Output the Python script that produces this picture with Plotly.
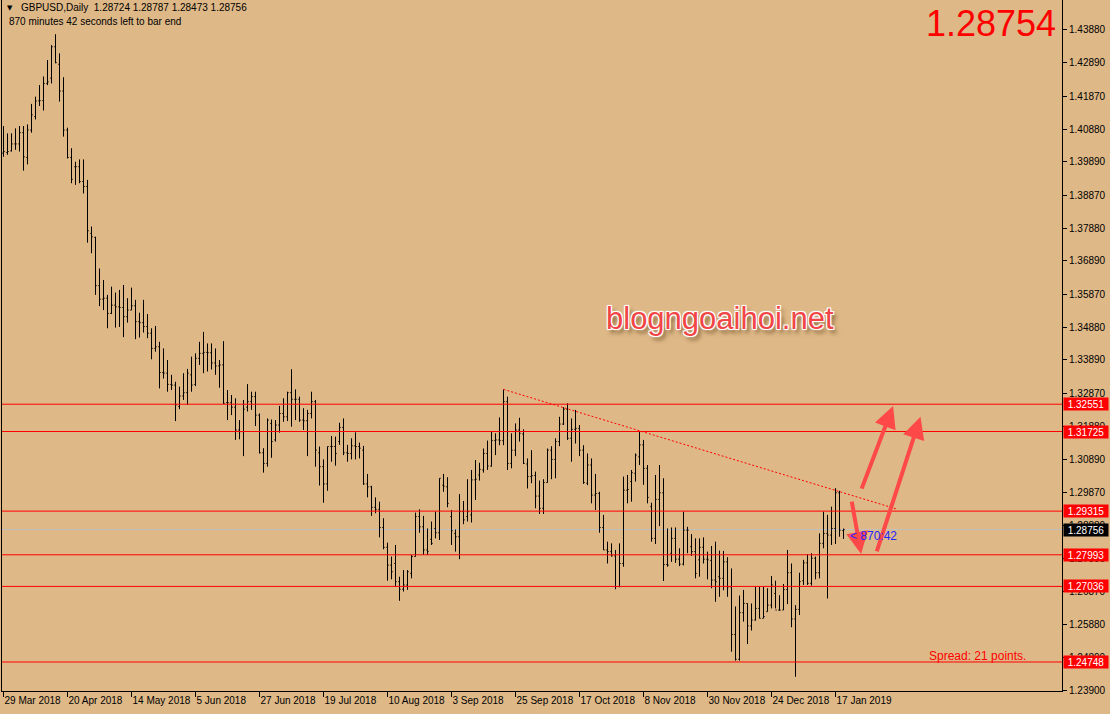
import plotly.graph_objects as go
import pandas as pd

# ---------------- data (GBPUSD daily) ----------------
opens = [1.4015,1.4017,1.4022,1.4043,1.4043,1.4077,1.4002,1.4085,1.4126,1.4173,1.4174,1.4226,1.4242,1.4337,1.4284,1.4203,1.4085,1.4002,1.3974,1.3974,
         1.3929,1.3914,1.3772,1.3760,1.3614,1.3573,1.3576,1.3530,1.3555,1.3550,1.3548,1.3520,1.3540,1.3553,1.3505,1.3502,1.3490,1.3470,1.3424,1.3429,
         1.3351,1.3349,1.3315,1.3313,1.3248,1.3280,1.3290,1.3344,1.3315,1.3394,1.3409,1.3412,1.3411,
         1.3380,1.3371,1.3374,1.3260,1.3260,1.3246,1.3177,1.3172,1.3246,1.3263,1.3278,1.3222,1.3108,1.3076,1.3197,1.3147,1.3192,1.3227,1.3217,1.3290,
         1.3270,1.3270,1.3207,1.3205,1.3227,1.3263,1.3108,1.3066,1.3014,1.3127,1.3127,1.3142,1.3185,1.3108,1.3106,1.3129,1.3127,1.3116,1.3014,1.3005,
         1.2943,1.2937,1.2882,1.2822,1.2768,1.2773,1.2718,1.2695,1.2708,1.2743,1.2794,1.2915,1.2884,
         1.2814,1.2846,1.2879,1.2866,1.3010,1.3005,1.2915,1.2864,1.2854,1.2930,1.2915,1.2920,1.3026,1.3041,1.3056,1.3106,1.3068,1.3145,1.3147,1.3145,
         1.3263,1.3076,1.3116,1.3177,1.3165,1.3074,1.3036,1.3039,1.2977,1.2940,1.3018,1.3116,1.3088,1.3142,1.3195,1.3240,1.3152,1.3179,1.3182,1.3116,
         1.3016,1.3071,1.2980,1.2985,1.2882,1.2814,1.2809,1.2796,1.2703,1.2773,1.2995,1.3021,
         1.3046,1.3096,1.3132,1.3061,1.2945,1.2849,1.2967,1.2987,1.2770,1.2804,1.2849,1.2786,1.2771,1.2874,1.2824,1.2809,1.2784,1.2822,1.2786,1.2782,
         1.2723,1.2733,1.2728,1.2778,1.2702,1.2558,1.2483,1.2624,1.2652,1.2584,1.2602,1.2637,1.2607,1.2627,1.2647,1.2682,1.2632,1.2632,1.2694,1.2745,
         1.2605,1.2634,1.2721,1.2775,1.2713,1.2789,1.2745,1.2834,1.2864,1.2859,1.2879,1.2987,1.28724]
highs = [1.4097,1.4075,1.4075,1.4090,1.4097,1.4097,1.4102,1.4164,1.4186,1.4221,1.4247,1.4297,1.4342,1.4375,1.4317,1.4245,1.4092,1.4030,1.3989,1.3996,
         1.3996,1.3934,1.3793,1.3762,1.3666,1.3631,1.3586,1.3611,1.3593,1.3601,1.3616,1.3576,1.3608,1.3571,1.3532,1.3571,1.3528,1.3485,1.3492,1.3444,
         1.3424,1.3389,1.3344,1.3323,1.3308,1.3349,1.3362,1.3399,1.3409,1.3444,1.3474,1.3439,1.3439,
         1.3424,1.3389,1.3446,1.3298,1.3283,1.3273,1.3207,1.3268,1.3316,1.3293,1.3293,1.3227,1.3122,1.3212,1.3209,1.3207,1.3250,1.3273,1.3293,1.3361,
         1.3300,1.3278,1.3243,1.3238,1.3293,1.3268,1.3127,1.3088,1.3127,1.3159,1.3157,1.3199,1.3212,1.3132,1.3152,1.3170,1.3139,1.3129,1.3044,1.3008,
         1.2973,1.2960,1.2910,1.2836,1.2794,1.2829,1.2733,1.2753,1.2753,1.2799,1.2927,1.2937,1.2917,
         1.2879,1.2900,1.2930,1.3031,1.3044,1.3034,1.2935,1.2876,1.2983,1.2962,1.3028,1.3056,1.3086,1.3078,1.3121,1.3145,1.3172,1.3167,1.3215,1.3300,
         1.3278,1.3167,1.3197,1.3214,1.3179,1.3091,1.3116,1.3051,1.3024,1.3028,1.3121,1.3128,1.3152,1.3217,1.3246,1.3258,1.3212,1.3238,1.3192,1.3131,
         1.3106,1.3091,1.3044,1.2990,1.2920,1.2839,1.2834,1.2814,1.2834,1.3036,1.3041,1.3056,
         1.3106,1.3172,1.3147,1.3071,1.2957,1.3041,1.3071,1.3031,1.2879,1.2882,1.2882,1.2819,1.2930,1.2884,1.2862,1.2849,1.2849,1.2852,1.2809,1.2826,
         1.2839,1.2812,1.2811,1.2792,1.2758,1.2643,1.2676,1.2693,1.2652,1.2652,1.2702,1.2702,1.2702,1.2698,1.2735,1.2721,1.2677,1.2711,1.2814,1.2773,
         1.2647,1.2745,1.2784,1.2801,1.2804,1.2794,1.2864,1.2930,1.2920,1.2945,1.3001,1.2993,1.28787]
lows = [1.4004,1.4010,1.4020,1.4025,1.4020,1.3962,1.3981,1.4077,1.4117,1.4158,1.4144,1.4221,1.4226,1.4287,1.4171,1.4065,1.3999,1.3924,1.3919,1.3924,
        1.3893,1.3744,1.3712,1.3586,1.3552,1.3540,1.3485,1.3528,1.3487,1.3489,1.3458,1.3502,1.3540,1.3452,1.3457,1.3472,1.3455,1.3391,1.3414,1.3303,
        1.3333,1.3293,1.3298,1.3204,1.3240,1.3268,1.3253,1.3293,1.3310,1.3374,1.3349,1.3354,1.3360,
        1.3344,1.3305,1.3256,1.3207,1.3222,1.3147,1.3149,1.3098,1.3233,1.3238,1.3189,1.3106,1.3048,1.3066,1.3093,1.3142,1.3169,1.3202,1.3204,1.3187,
        1.3207,1.3202,1.3177,1.3098,1.3212,1.3066,1.3009,1.2957,1.2993,1.3081,1.3069,1.3132,1.3101,1.3081,1.3088,1.3088,1.3091,1.3011,1.2973,1.2917,
        1.2925,1.2852,1.2816,1.2721,1.2725,1.2703,1.2660,1.2688,1.2693,1.2728,1.2794,1.2866,1.2799,
        1.2799,1.2829,1.2849,1.2844,1.2990,1.2943,1.2829,1.2809,1.2786,1.2892,1.2900,1.2897,1.2965,1.3024,1.3048,1.3056,1.3066,1.3101,1.3131,1.3131,
        1.3056,1.3061,1.3098,1.3142,1.3074,1.3000,1.3016,1.2940,1.2923,1.2923,1.3018,1.3028,1.3031,1.3128,1.3192,1.3147,1.3081,1.3136,1.3098,1.3014,
        1.3010,1.2955,1.2935,1.2866,1.2814,1.2773,1.2794,1.2695,1.2701,1.2763,1.2955,1.2960,
        1.3021,1.3071,1.3011,1.2955,1.2839,1.2832,1.2886,1.2720,1.2763,1.2778,1.2775,1.2765,1.2767,1.2804,1.2796,1.2728,1.2733,1.2773,1.2725,1.2698,
        1.2657,1.2672,1.2692,1.2672,1.2506,1.2479,1.2479,1.2597,1.2529,1.2570,1.2600,1.2607,1.2607,1.2627,1.2637,1.2637,1.2630,1.2632,1.2650,1.2580,
        1.2430,1.2617,1.2708,1.2708,1.2706,1.2725,1.2728,1.2819,1.2667,1.2829,1.2832,1.2854,1.28473]
closes = [1.4020,1.4020,1.4043,1.4043,1.4077,1.4004,1.4085,1.4131,1.4173,1.4174,1.4226,1.4231,1.4337,1.4289,1.4203,1.4085,1.4002,1.3936,1.3974,1.3929,
          1.3914,1.3780,1.3762,1.3614,1.3573,1.3576,1.3530,1.3555,1.3550,1.3548,1.3520,1.3540,1.3553,1.3505,1.3502,1.3490,1.3470,1.3424,1.3429,1.3351,
          1.3349,1.3315,1.3313,1.3253,1.3280,1.3290,1.3349,1.3313,1.3394,1.3409,1.3412,1.3411,1.3380,
          1.3371,1.3374,1.3258,1.3260,1.3246,1.3177,1.3172,1.3240,1.3263,1.3278,1.3222,1.3108,1.3076,1.3207,1.3142,1.3192,1.3227,1.3217,1.3290,1.3270,
          1.3270,1.3207,1.3205,1.3227,1.3263,1.3116,1.3066,1.3014,1.3127,1.3127,1.3106,1.3185,1.3108,1.3106,1.3129,1.3127,1.3122,1.3014,1.3005,1.2943,
          1.2937,1.2882,1.2822,1.2768,1.2748,1.2718,1.2695,1.2708,1.2748,1.2794,1.2915,1.2884,1.2814,
          1.2809,1.2834,1.2866,1.3031,1.3007,1.2955,1.2872,1.2854,1.2930,1.2905,1.2930,1.3026,1.3028,1.3058,1.3106,1.3068,1.3145,1.3147,1.3145,1.3263,
          1.3076,1.3116,1.3177,1.3167,1.3076,1.3036,1.3039,1.2977,1.2940,1.3018,1.3116,1.3088,1.3142,1.3195,1.3240,1.3152,1.3179,1.3182,1.3116,1.3018,
          1.3071,1.2980,1.2985,1.2882,1.2814,1.2809,1.2796,1.2703,1.2773,1.2995,1.2997,1.3048,
          1.3101,1.3132,1.3061,1.2973,1.2849,1.2967,1.2987,1.2770,1.2768,1.2849,1.2786,1.2771,1.2874,1.2874,1.2809,1.2743,1.2822,1.2786,1.2784,1.2723,
          1.2718,1.2728,1.2778,1.2702,1.2558,1.2483,1.2624,1.2652,1.2584,1.2602,1.2637,1.2607,1.2612,1.2647,1.2708,1.2632,1.2632,1.2694,1.2745,1.2605,
          1.2634,1.2718,1.2775,1.2713,1.2789,1.2745,1.2834,1.2864,1.2859,1.2879,1.2987,1.2874,1.28756]

start_date = "2018-03-29"
skip_dates = ["2018-12-25", "2019-01-01"]
label_every = 16

levels_red = [1.32551, 1.31725, 1.29315, 1.27993, 1.27036, 1.24748]
current_price = 1.28756
big_price = "1.28754"
y_ticks = [1.43880, 1.42890, 1.41870, 1.40880, 1.39890, 1.38870, 1.37880, 1.36890, 1.35870, 1.34880,
           1.33890, 1.32870, 1.31880, 1.30890, 1.29870, 1.28880, 1.27890, 1.26870, 1.25880, 1.24890, 1.23900]
trend_x = [125, 223.25]
trend_y = [1.3300, 1.2938]
arrows = [  # (tail_x, tail_y, head_x, head_y)
    (214.4, 1.2995, 222.4, 1.3250),
    (212.0, 1.2965, 214.4, 1.2802),
    (218.2, 1.2805, 229.25, 1.3217),
]
header1 = "GBPUSD,Daily  1.28724 1.28787 1.28473 1.28756"
header2 = "870 minutes 42 seconds left to bar end"
timer_text = "< 870:42"
spread_text = "Spread: 21 points."
watermark = "blogngoaihoi.net"

# ---------------- build ----------------
n = len(opens)
all_days = pd.bdate_range(start_date, periods=n + 10)
dates = [d for d in all_days if d.strftime("%Y-%m-%d") not in skip_dates][:n]
xs = list(range(n))
tick_idx = list(range(0, n, label_every))
tick_txt = [f"{dates[i].day} {dates[i]:%b %Y}" for i in tick_idx]

BG = "#DEB887"
FONT = "Liberation Sans, Arial, sans-serif"

fig = go.Figure()
fig.add_trace(go.Ohlc(
    x=xs, open=opens, high=highs, low=lows, close=closes,
    increasing=dict(line=dict(color="black", width=1)),
    decreasing=dict(line=dict(color="black", width=1)),
    tickwidth=0.3, showlegend=False, hoverinfo="skip"))

fig.add_trace(go.Scatter(x=trend_x, y=trend_y, mode="lines",
                         line=dict(color="#FF0000", width=1, dash="2px,2px"),
                         showlegend=False, hoverinfo="skip"))

shapes = [dict(type="line", xref="paper", x0=0, x1=1, yref="y", y0=current_price, y1=current_price,
               line=dict(color="#C0C0C0", width=1), layer="below")]
for lv in levels_red:
    shapes.append(dict(type="line", xref="paper", x0=0, x1=1, yref="y", y0=lv, y1=lv,
                       line=dict(color="#FF0000", width=1), layer="above"))

ann = []
for lv in levels_red:
    ann.append(dict(xref="paper", x=1, xanchor="left", xshift=1, yref="y", y=lv, yanchor="middle",
                    text=f"{lv:.5f}", showarrow=False, bgcolor="#FF0000", width=44, height=12,
                    borderpad=0, font=dict(family=FONT, size=10, color="white")))
ann.append(dict(xref="paper", x=1, xanchor="left", xshift=1, yref="y", y=current_price, yanchor="middle",
                text=f"{current_price:.5f}", showarrow=False, bgcolor="#000000", width=44, height=12,
                borderpad=0, font=dict(family=FONT, size=10, color="white")))

for tx, ty, hx, hy in arrows:
    ann.append(dict(x=hx, y=hy, ax=tx, ay=ty, xref="x", yref="y", axref="x", ayref="y",
                    text="", showarrow=True, arrowhead=2, arrowsize=1.1, arrowwidth=4,
                    arrowcolor="#FF4848"))

ann.append(dict(xref="paper", yref="paper", x=0.9962, y=0.966, xanchor="right", yanchor="middle",
                text=big_price, showarrow=False, font=dict(family=FONT, size=36, color="#FF0000")))
ann.append(dict(xref="paper", yref="paper", x=0.0028, y=0.9885, xanchor="left", yanchor="middle",
                text="▼", showarrow=False, font=dict(family="DejaVu Sans", size=7, color="black")))
ann.append(dict(xref="paper", yref="paper", x=0.016, y=0.9885, xanchor="left", yanchor="middle",
                text=header1.replace("  ", "&nbsp;&nbsp;"), showarrow=False,
                font=dict(family=FONT, size=10, color="black")))
ann.append(dict(xref="paper", yref="paper", x=0.0045, y=0.9695, xanchor="left", yanchor="middle",
                text=header2, showarrow=False, font=dict(family=FONT, size=10, color="black")))
ann.append(dict(xref="x", yref="y", x=211.1, y=1.2857, xanchor="left", yanchor="middle",
                text=timer_text, showarrow=False, font=dict(family=FONT, size=12, color="#2525FF")))
ann.append(dict(xref="x", yref="y", x=230.9, y=1.2493, xanchor="left", yanchor="middle",
                text=spread_text, showarrow=False, font=dict(family=FONT, size=12, color="#FF0000")))
ann.append(dict(xref="x", yref="y", x=179.1, y=1.3516, xanchor="center", yanchor="middle",
                text=watermark, showarrow=False,
                font=dict(family=FONT, size=31, color="#F24545",
                          shadow="-1px -1px 0 #fff, 1px -1px 0 #fff, -1px 1px 0 #fff, 1px 1px 0 #fff, 0 0 3px #fff, 3px 4px 4px #7a5a30")))

fig.update_layout(
    width=1110, height=714,
    margin=dict(l=2, r=48, t=0, b=23, autoexpand=False),
    paper_bgcolor=BG, plot_bgcolor=BG,
    shapes=shapes, annotations=ann, showlegend=False,
    font=dict(family=FONT, size=10, color="black"),
)
fig.update_xaxes(range=[-0.375, 264.625], rangeslider=dict(visible=False),
                 tickmode="array", tickvals=tick_idx, ticktext=tick_txt,
                 ticks="outside", ticklen=5, tickcolor="black", tickwidth=1,
                 ticklabelposition="outside right", tickangle=0, automargin=False,
                 showline=True, linecolor="black", linewidth=1, showgrid=False, zeroline=False,
                 tickfont=dict(family=FONT, size=10, color="black"))
fig.update_yaxes(range=[1.23870, 1.44786], side="right", automargin=False,
                 tickmode="array", tickvals=y_ticks, ticktext=[f"{v:.5f}" for v in y_ticks],
                 ticks="outside", ticklen=4, tickcolor="black", tickwidth=1,
                 showline=True, linecolor="black", linewidth=1, mirror=True,
                 showgrid=False, zeroline=False,
                 tickfont=dict(family=FONT, size=10, color="black"))

fig.write_html("out.html", config={"displayModeBar": False},
               post_script="document.body.style.margin='0';document.body.style.background='%s';" % BG)
